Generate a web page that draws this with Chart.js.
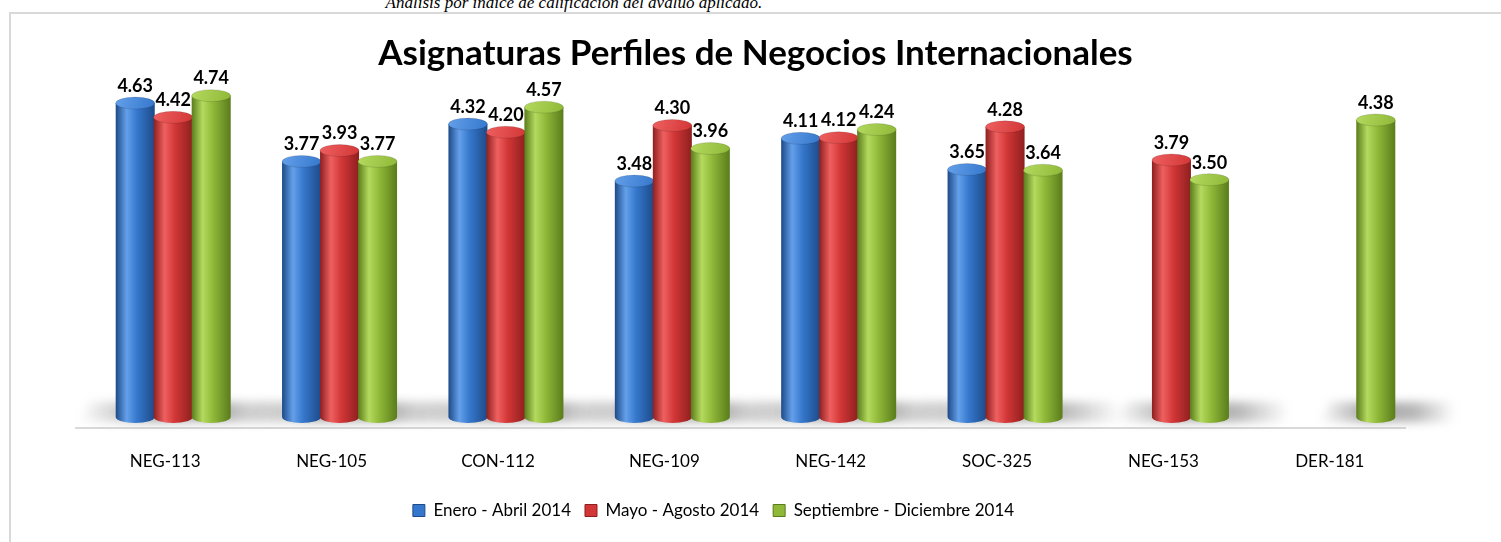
<!DOCTYPE html>
<html>
<head>
<meta charset="utf-8">
<script src="https://cdn.jsdelivr.net/npm/chart.js@4/dist/chart.umd.min.js"></script>
<style>
  html, body { margin: 0; padding: 0; background: #fff; }
  #wrap { position: relative; width: 1501px; height: 542px; overflow: hidden; }
  #caption {
    position: absolute; left: 0; width: 1148px; top: -5px;
    text-align: center; font: italic 17px "Liberation Serif", serif; line-height: 16px; color: #000;
  }
  #frame {
    position: absolute; left: 9px; top: 12px; right: -5px; bottom: -5px;
    border-left: 2px solid #d9d9d9; border-top: 2px solid #d9d9d9;
  }
  canvas { position: absolute; left: 0; top: 0; }
</style>
</head>
<body>
<div id="wrap">
  <div id="caption">Análisis por índice de calificación del avalúo aplicado.</div>
  <div id="frame"></div>
  <canvas id="chart" width="1501" height="542"></canvas>
</div>
<script>
// ── Data ──
const categories = ['NEG-113', 'NEG-105', 'CON-112', 'NEG-109', 'NEG-142', 'SOC-325', 'NEG-153', 'DER-181'];
const seriesNames = ['Enero - Abril 2014', 'Mayo - Agosto 2014', 'Septiembre - Diciembre 2014'];
const eneroAbril   = [4.63, 3.77, 4.32, 3.48, 4.11, 3.65, null, null];
const mayoAgosto   = [4.42, 3.93, 4.20, 4.30, 4.12, 4.28, 3.79, null];
const septDic      = [4.74, 3.77, 4.57, 3.96, 4.24, 3.64, 3.50, 4.38];

// dark edge / base / highlight per series
const palette = [
  { dark: '#1d4a88', base: '#3577cc', light: '#64a0ea' },
  { dark: '#8e1f1f', base: '#d23636', light: '#ef6060' },
  { dark: '#5a7c1c', base: '#8fb838', light: '#b4da5e' }
];

const FONT = 'Lato, "Open Sans", sans-serif';

function shade(ctx, x0, x1, p) {
  const g = ctx.createLinearGradient(x0, 0, x1, 0);
  g.addColorStop(0, p.dark);
  g.addColorStop(0.28, p.light);
  g.addColorStop(0.55, p.base);
  g.addColorStop(1, p.dark);
  return g;
}

// ── Cylinders, floor shadow and value labels ──
const cylinderPlugin = {
  id: 'cylinders',
  afterLayout(chart) {
    // legend sits a bit left of the canvas centre in the original
    chart.legend.left -= 42;
    chart.legend.right -= 42;
  },
  beforeDatasetsDraw(chart) {
    const ctx = chart.ctx;
    const area = chart.chartArea;
    const base = chart.scales.y.getPixelForValue(0);
    ctx.save();
    // floor line
    ctx.strokeStyle = '#d9d9d9';
    ctx.lineWidth = 2;
    ctx.beginPath();
    ctx.moveTo(area.left - 15, base + 11);
    ctx.lineTo(area.right - 15, base + 11);
    ctx.stroke();
    // soft shadow behind the bars of each category
    ctx.filter = 'blur(5px)';
    categories.forEach((c, i) => {
      let gl = Infinity, gr = -Infinity;
      chart.data.datasets.forEach((ds, di) => {
        if (ds.data[i] == null) return;
        const el = chart.getDatasetMeta(di).data[i];
        gl = Math.min(gl, el.x - el.width / 2);
        gr = Math.max(gr, el.x + el.width / 2);
      });
      if (gl === Infinity) return;
      gl -= 38; gr += 60;
      const g = ctx.createLinearGradient(gl, 0, gr, 0);
      g.addColorStop(0, 'rgba(110,110,110,0)');
      g.addColorStop(0.35, 'rgba(110,110,110,0.6)');
      g.addColorStop(0.7, 'rgba(110,110,110,0.5)');
      g.addColorStop(1, 'rgba(110,110,110,0)');
      ctx.fillStyle = g;
      ctx.beginPath();
      ctx.moveTo(gl, base + 5);
      ctx.lineTo(gr, base + 5);
      ctx.lineTo(gr + 12, base - 15);
      ctx.lineTo(gl + 12, base - 15);
      ctx.closePath();
      ctx.fill();
    });
    ctx.filter = 'none';
    ctx.restore();
  },
  afterDatasetsDraw(chart) {
    const ctx = chart.ctx;
    ctx.save();
    chart.data.datasets.forEach((ds, di) => {
      const p = palette[di];
      chart.getDatasetMeta(di).data.forEach((el, i) => {
        if (ds.data[i] == null) return;
        const w = el.width + 1;
        const x0 = el.x - w / 2, x1 = el.x + w / 2;
        const ry = 6;
        const top = el.y, bot = el.base;
        ctx.fillStyle = shade(ctx, x0, x1, p);
        ctx.beginPath();
        ctx.moveTo(x0, top);
        ctx.lineTo(x0, bot);
        ctx.ellipse(el.x, bot, w / 2, ry, 0, Math.PI, 0, true);
        ctx.lineTo(x1, top);
        ctx.closePath();
        ctx.fill();
        // top cap
        const tg = ctx.createLinearGradient(x0, top - ry, x1, top + ry);
        tg.addColorStop(0, p.light);
        tg.addColorStop(1, p.base);
        ctx.fillStyle = tg;
        ctx.beginPath();
        ctx.ellipse(el.x, top, w / 2, ry, 0, 0, Math.PI * 2);
        ctx.fill();
        ctx.strokeStyle = 'rgba(0,0,0,0.12)';
        ctx.lineWidth = 1;
        ctx.stroke();
        // value label
        ctx.fillStyle = '#000';
        ctx.font = 'bold 18px ' + FONT;
        ctx.textAlign = 'center';
        ctx.textBaseline = 'bottom';
        ctx.fillText(ds.data[i].toFixed(2), el.x, top - 8);
      });
    });
    ctx.restore();
  }
};

new Chart(document.getElementById('chart'), {
  type: 'bar',
  data: {
    labels: categories,
    datasets: [
      { label: seriesNames[0], data: eneroAbril, backgroundColor: palette[0].base },
      { label: seriesNames[1], data: mayoAgosto, backgroundColor: palette[1].base },
      { label: seriesNames[2], data: septDic, backgroundColor: palette[2].base }
    ]
  },
  options: {
    responsive: false,
    animation: false,
    events: [],
    layout: { padding: { left: 90, right: 80, top: 33, bottom: 14 } },
    datasets: { bar: { categoryPercentage: 0.685, barPercentage: 1.0 } },
    plugins: {
      title: {
        display: true,
        text: 'Asignaturas Perfiles de Negocios Internacionales',
        color: '#000',
        font: { family: FONT, size: 35, weight: 'bold' },
        padding: { top: 0, bottom: 3 }
      },
      legend: {
        position: 'bottom',
        maxHeight: 40,
        labels: {
          color: '#000',
          font: { family: FONT, size: 17 },
          boxWidth: 12,
          boxHeight: 12,
          padding: 14,
          generateLabels(chart) {
            return seriesNames.map((n, i) => ({
              text: n,
              fillStyle: palette[i].base,
              strokeStyle: palette[i].dark,
              lineWidth: 1,
              datasetIndex: i
            }));
          }
        }
      },
      tooltip: { enabled: false }
    },
    scales: {
      x: {
        grid: { display: false, drawTicks: false },
        border: { display: false },
        ticks: { color: '#000', font: { family: FONT, size: 17 }, padding: 34, labelOffset: -8 },
        afterFit(scale) { scale.height = 71; }
      },
      y: {
        display: false,
        min: 0,
        max: 5
      }
    }
  },
  plugins: [cylinderPlugin]
});
</script>
</body>
</html>
